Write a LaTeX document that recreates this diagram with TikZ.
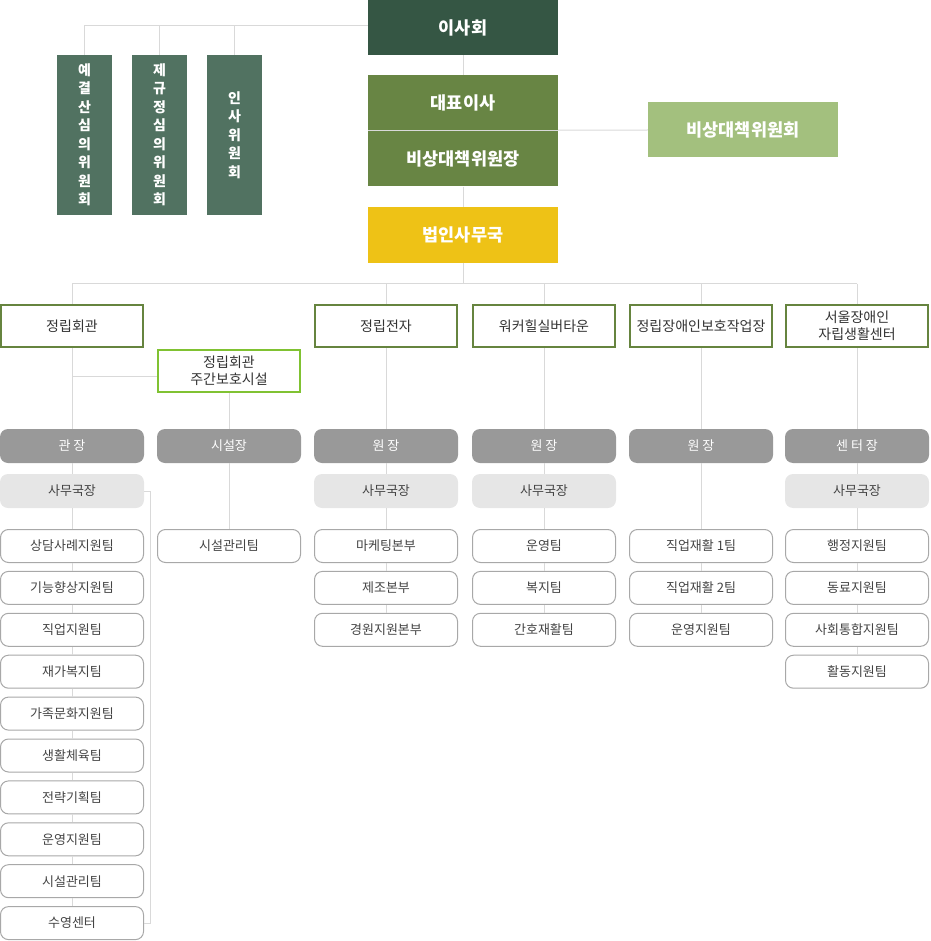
\documentclass[tikz,border=0pt]{standalone}
\usepackage{fontspec}
\setmainfont{Noto Sans CJK KR}
\usetikzlibrary{positioning,calc}
\definecolor{cdark}{HTML}{355644}
\definecolor{cmid}{HTML}{688544}
\definecolor{cyel}{HTML}{EEC216}
\definecolor{clight}{HTML}{A3C07E}
\definecolor{cvert}{HTML}{517261}
\definecolor{cunit}{HTML}{66843F}
\definecolor{cday}{HTML}{80C232}
\definecolor{chead}{HTML}{999999}
\definecolor{csub}{HTML}{E6E6E6}
\definecolor{cteam}{HTML}{A8A8A8}
\definecolor{cline}{HTML}{D9D9D9}
\definecolor{ctext}{HTML}{444444}
\tikzset{
  topbox/.style={rectangle, fill=#1, text=white, inner sep=0pt, minimum width=190pt, minimum height=55pt, font=\fontsize{17.5}{20}\selectfont\bfseries},
  vbox/.style={rectangle, fill=cvert, text=white, inner sep=0pt, minimum width=55pt, minimum height=160pt, align=center, font=\fontsize{14}{18.5}\selectfont\bfseries},
  unitbox/.style={rectangle, draw=#1, line width=2pt, fill=white, text=black!80, inner sep=0pt, minimum width=142pt, minimum height=42pt, align=center, font=\fontsize{14}{17}\selectfont},
  headbox/.style={rectangle, rounded corners=8pt, fill=chead, text=white, inner sep=0pt, minimum width=144pt, minimum height=34pt, font=\fontsize{13}{15}\selectfont},
  subbox/.style={rectangle, rounded corners=8pt, fill=csub, text=ctext, inner sep=0pt, minimum width=144pt, minimum height=34pt, font=\fontsize{13}{15}\selectfont},
  teambox/.style={rectangle, rounded corners=8pt, draw=cteam, line width=1pt, fill=white, text=ctext, inner sep=0pt, minimum width=143pt, minimum height=33pt, font=\fontsize{13}{15}\selectfont},
  conn/.style={draw=cline, line width=1pt}
}
\begin{document}
\begin{tikzpicture}[x=1pt,y=-1pt]
\useasboundingbox (0,0) rectangle (930,941);
% top
\node[topbox=cdark] (isa) at (463,27.5) {이사회};
\node[topbox=cmid] (ceo) at (463,102.5) {대표이사};
\node[topbox=cmid] (emc) at (463,159) {비상대책위원장};
\node[topbox=cyel] (office) at (463,235) {법인사무국};
\node[topbox=clight] (emcom) at (743,130) {비상대책위원회};
\draw[cline, line width=1pt] (ceo.south west) -- (ceo.south east);
% committees
\node[vbox] (c1) at (84.5,135) {예\\결\\산\\심\\의\\위\\원\\회};
\node[vbox] (c2) at (159.5,135) {제\\규\\정\\심\\의\\위\\원\\회};
\node[vbox] (c3) at (234.5,135) {인\\사\\위\\원\\회};
\draw[conn] (isa.west) ++(0,-1.5) coordinate (ta) -| (c1.north);
\draw[conn] (ta) -| (c2.north);
\draw[conn] (ta) -| (c3.north);
\draw[conn] (isa.south) -- (ceo.north);
\draw[conn] (emc.south) -- (office.north);
\draw[conn] (ceo.south east) -- (emcom.west);
% units
\node[unitbox=cunit] (u1) at (72,326) {정립회관};
\node[unitbox=cday] (u2) at (229,371) {정립회관\\주간보호시설};
\node[unitbox=cunit] (u3) at (386,326) {정립전자};
\node[unitbox=cunit] (u4) at (544,326) {워커힐실버타운};
\node[unitbox=cunit] (u5) at (701,326) {정립장애인보호작업장};
\node[unitbox=cunit] (u6) at (857,326) {서울장애인\\자립생활센터};
\coordinate (hub) at (463,283.5);
\draw[conn] (office.south) -- (hub);
\draw[conn] (u1.north |- hub) -- (u6.north |- hub);
\foreach \u in {u1,u3,u4,u5,u6} \draw[conn] (\u.north |- hub) -- (\u.north);
% heads
\node[headbox] (h1) at (72,446) {관 장};
\node[headbox] (h2) at (229,446) {시설장};
\node[headbox] (h3) at (386,446) {원 장};
\node[headbox] (h4) at (544,446) {원 장};
\node[headbox] (h5) at (701,446) {원 장};
\node[headbox] (h6) at (857,446) {센 터 장};
\node[subbox] (s1) at (72,491) {사무국장};
\node[subbox] (s3) at (386,491) {사무국장};
\node[subbox] (s4) at (544,491) {사무국장};
\node[subbox] (s6) at (857,491) {사무국장};
\draw[conn] (u1.south) -- (h1.north);
\coordinate (br) at ($(u2.west)+(0,5)$);
\draw[conn] (u1.south |- br) -- (u2.west |- br);
\foreach \c in {2,3,4,5,6} \draw[conn] (u\c.south) -- (h\c.north);
\foreach \c in {1,3,4,6} \draw[conn] (h\c.south) -- (s\c.north);
% teams column 1
\foreach \t [count=\i] in {상담사례지원팀,기능향상지원팀,직업지원팀,재가복지팀,가족문화지원팀,생활체육팀,전략기획팀,운영지원팀,시설관리팀,수영센터}
  \node[teambox] (a\i) at (72,{546+41.9*(\i-1)}) {\t};
\draw[conn] (s1.south) -- (a1.north);
\foreach \i [evaluate=\i as \j using int(\i+1)] in {1,...,9} \draw[conn] (a\i.south) -- (a\j.north);
\draw[conn] (s1.east) -- ++(6,0) |- (a10.east);
% column 2
\node[teambox] (b1) at (229,546) {시설관리팀};
\draw[conn] (h2.south) -- (b1.north);
% column 3
\foreach \t [count=\i] in {마케팅본부,제조본부,경원지원본부}
  \node[teambox] (d\i) at (386,{546+41.9*(\i-1)}) {\t};
\draw[conn] (s3.south) -- (d1.north);
\draw[conn] (d1.south) -- (d2.north);
\draw[conn] (d2.south) -- (d3.north);
% column 4
\foreach \t [count=\i] in {운영팀,복지팀,간호재활팀}
  \node[teambox] (e\i) at (544,{546+41.9*(\i-1)}) {\t};
\draw[conn] (s4.south) -- (e1.north);
\draw[conn] (e1.south) -- (e2.north);
\draw[conn] (e2.south) -- (e3.north);
% column 5
\foreach \t [count=\i] in {직업재활 1팀,직업재활 2팀,운영지원팀}
  \node[teambox] (f\i) at (701,{546+41.9*(\i-1)}) {\t};
\draw[conn] (h5.south) -- (f1.north);
\draw[conn] (f1.south) -- (f2.north);
\draw[conn] (f2.south) -- (f3.north);
% column 6
\foreach \t [count=\i] in {행정지원팀,동료지원팀,사회통합지원팀,활동지원팀}
  \node[teambox] (g\i) at (857,{546+41.9*(\i-1)}) {\t};
\draw[conn] (s6.south) -- (g1.north);
\draw[conn] (g1.south) -- (g2.north);
\draw[conn] (g2.south) -- (g3.north);
\draw[conn] (g3.south) -- (g4.north);
\end{tikzpicture}
\end{document}
